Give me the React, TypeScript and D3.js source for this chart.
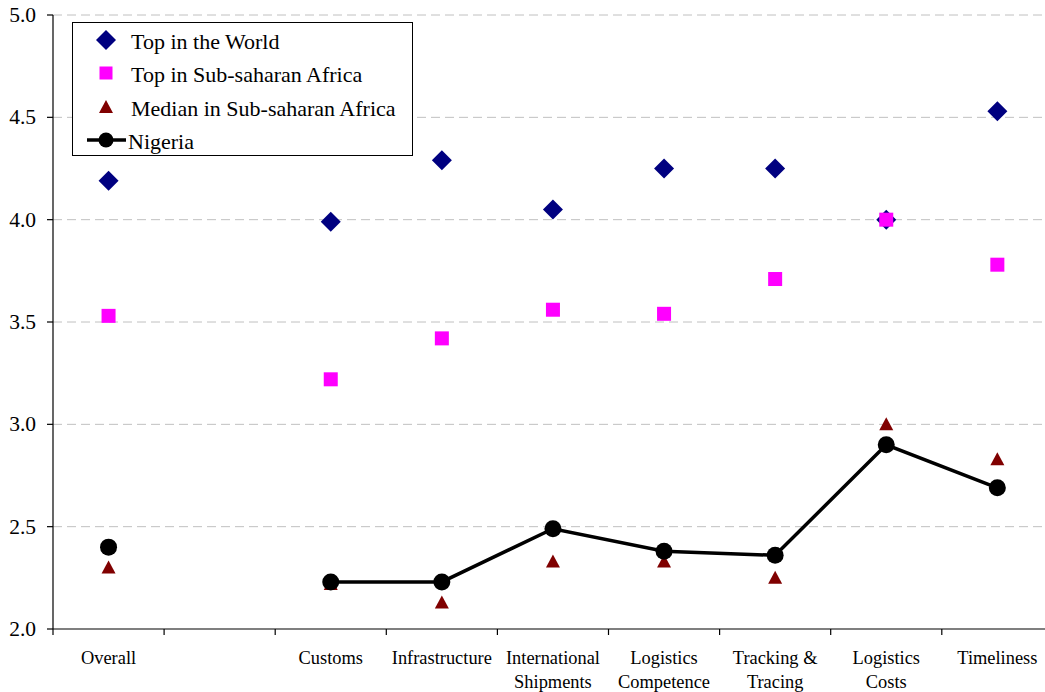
import React from "react";
import * as d3 from "d3";

// Logistics Performance Index components
const categories: string[] = [
  "Overall",
  "",
  "Customs",
  "Infrastructure",
  "International Shipments",
  "Logistics Competence",
  "Tracking & Tracing",
  "Logistics Costs",
  "Timeliness",
];
const categoryLines: string[][] = [
  ["Overall"],
  [],
  ["Customs"],
  ["Infrastructure"],
  ["International", "Shipments"],
  ["Logistics", "Competence"],
  ["Tracking &", "Tracing"],
  ["Logistics", "Costs"],
  ["Timeliness"],
];

type V = number | null;
const topWorld: V[] = [4.19, null, 3.99, 4.29, 4.05, 4.25, 4.25, 4.0, 4.53];
const topSSA: V[] = [3.53, null, 3.22, 3.42, 3.56, 3.54, 3.71, 4.0, 3.78];
const medianSSA: V[] = [2.3, null, 2.22, 2.13, 2.33, 2.33, 2.25, 3.0, 2.83];
const nigeria: V[] = [2.4, null, 2.23, 2.23, 2.49, 2.38, 2.36, 2.9, 2.69];

const yTicks: number[] = [2.0, 2.5, 3.0, 3.5, 4.0, 4.5, 5.0];
const legendLabels: string[] = [
  "Top in the World",
  "Top in Sub-saharan Africa",
  "Median in Sub-saharan Africa",
  "Nigeria",
];

const W = 1045;
const H = 692;
const FONT = "Liberation Serif";

const x0 = 53;
const bandW = 111.1;
const x = d3
  .scaleBand<number>()
  .domain(d3.range(categories.length))
  .range([x0, x0 + bandW * categories.length])
  .paddingInner(0)
  .paddingOuter(0);
const cx = (i: number) => (x(i) as number) + x.bandwidth() / 2;
const y = d3.scaleLinear().domain([2, 5]).range([629, 15]);

const NAVY = "#000080";
const MAGENTA = "#FF00FF";
const MAROON = "#800000";

const Diamond = ({ px, py }: { px: number; py: number }) => (
  <path d={`M${px},${py - 10}L${px + 10},${py}L${px},${py + 10}L${px - 10},${py}Z`} fill={NAVY} />
);
const Square = ({ px, py }: { px: number; py: number }) => (
  <rect x={px - 7} y={py - 7} width={14} height={14} fill={MAGENTA} />
);
const Triangle = ({ px, py }: { px: number; py: number }) => (
  <path d={`M${px},${py - 7}L${px + 7},${py + 6}L${px - 7},${py + 6}Z`} fill={MAROON} />
);
const Dot = ({ px, py }: { px: number; py: number }) => (
  <circle cx={px} cy={py} r={8.5} fill="#000" />
);

const textStyle: React.CSSProperties = { fontFamily: FONT };

export default function App() {
  const line = d3
    .line<V>()
    .defined((d) => d !== null)
    .x((_, i) => cx(i))
    .y((d) => y(d as number));

  // The Overall point stands alone; the line joins the components only
  const lineData: V[] = nigeria.map((v, i) => (i < 2 ? null : v));

  const legendRows = [40, 73, 107, 140];

  return (
    <svg
      width={W}
      height={H}
      style={{ position: "absolute", left: 0, top: 0, background: "#fff" }}
    >
      {/* gridlines */}
      {yTicks.slice(1).map((t) => (
        <line
          key={t}
          x1={x0}
          x2={W}
          y1={y(t)}
          y2={y(t)}
          stroke="#c0c0c0"
          strokeWidth={1}
          strokeDasharray="9,5"
        />
      ))}

      {/* y axis */}
      <line x1={x0} x2={x0} y1={y(5)} y2={y(2)} stroke="#000" strokeWidth={1.2} />
      {yTicks.map((t) => (
        <g key={t}>
          <line x1={x0 - 6} x2={x0} y1={y(t)} y2={y(t)} stroke="#000" strokeWidth={1.2} />
          <text
            x={x0 - 17}
            y={y(t)}
            textAnchor="end"
            dominantBaseline="central"
            fontSize={21.5}
            fill="#000"
            style={textStyle}
          >
            {t.toFixed(1)}
          </text>
        </g>
      ))}

      {/* x axis */}
      <line x1={x0} x2={W} y1={y(2)} y2={y(2)} stroke="#000" strokeWidth={1.2} />
      {d3.range(categories.length + 1).map((i) => (
        <line
          key={i}
          x1={x0 + i * bandW}
          x2={x0 + i * bandW}
          y1={y(2)}
          y2={y(2) + 6}
          stroke="#000"
          strokeWidth={1.2}
        />
      ))}
      {categoryLines.map((ls, i) => (
        <text key={i} x={cx(i)} textAnchor="middle" fontSize={18.4} fill="#000" style={textStyle}>
          {ls.map((l, j) => (
            <tspan key={j} x={cx(i)} y={664 + j * 24}>
              {l}
            </tspan>
          ))}
        </text>
      ))}

      {/* Nigeria line */}
      <path d={line(lineData) || ""} fill="none" stroke="#000" strokeWidth={3.5} />

      {/* markers */}
      {topWorld.map((v, i) => (v === null ? null : <Diamond key={`w${i}`} px={cx(i)} py={y(v)} />))}
      {topSSA.map((v, i) => (v === null ? null : <Square key={`s${i}`} px={cx(i)} py={y(v)} />))}
      {medianSSA.map((v, i) => (v === null ? null : <Triangle key={`m${i}`} px={cx(i)} py={y(v)} />))}
      {nigeria.map((v, i) => (v === null ? null : <Dot key={`n${i}`} px={cx(i)} py={y(v)} />))}

      {/* legend */}
      <rect x={72.5} y={22.5} width={340} height={133} fill="#fff" stroke="#000" strokeWidth={1} />
      <Diamond px={106} py={legendRows[0]} />
      <rect x={99.5} y={legendRows[1] - 6.5} width={13} height={13} fill={MAGENTA} />
      <path
        d={`M106,${legendRows[2] - 7}L113,${legendRows[2] + 6}L99,${legendRows[2] + 6}Z`}
        fill={MAROON}
      />
      <line x1={87} x2={126} y1={legendRows[3]} y2={legendRows[3]} stroke="#000" strokeWidth={3.5} />
      <circle cx={106} cy={legendRows[3]} r={7.5} fill="#000" />
      {legendLabels.map((l, i) => (
        <text
          key={l}
          x={i === 3 ? 128 : 131}
          y={legendRows[i] + 1}
          dominantBaseline="central"
          fontSize={22}
          fill="#000"
          style={textStyle}
        >
          {l}
        </text>
      ))}
    </svg>
  );
}
